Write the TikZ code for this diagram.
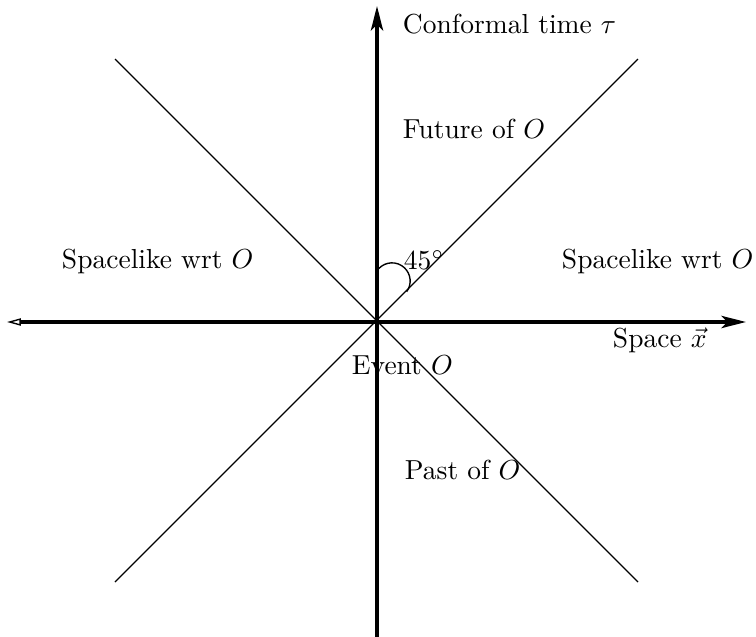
\documentclass[tikz,border=0pt]{standalone}
\usetikzlibrary{arrows.meta}
\begin{document}
\begin{tikzpicture}[x=0.3636pt,y=-0.3636pt,
  axis/.style={line width=1.1pt},
  cone/.style={line width=0.5pt},
  lbl/.style={anchor=base west,inner sep=0pt,outer sep=0pt}]
\useasboundingbox (0,0) rectangle (756,637);
\coordinate (O) at (377,321);
\coordinate (tb) at (377,637);
\coordinate (tt) at (377,6);
\coordinate (xl) at (7,322);
\coordinate (xr) at (746,322);
\coordinate (d1a) at (115,59);
\coordinate (d1b) at (638,582);
\coordinate (d2a) at (638,59);
\coordinate (d2b) at (115,582);
\coordinate (ac) at (392,281);
\draw[cone] (d1a) -- (d1b);
\draw[cone] (d2a) -- (d2b);
\draw[axis,-{Stealth[length=9pt,width=4.5pt,inset=2.2pt]}] (tb) -- (tt);
\draw[axis,{Triangle[open,length=5pt,width=2.6pt,line width=0.5pt]}-{Stealth[length=9pt,width=4.5pt,inset=2.2pt]}] (xl) -- (xr);
\draw[cone] ([shift={(137:6.6pt)}]ac) arc[start angle=137,end angle=-36,radius=6.6pt];
\node[lbl] (t1) at (403,33) {Conformal time $\tau$};
\node[lbl] (t2) at (403,138) {Future of $O$};
\node[lbl] (t3) at (404,269) {$45^\circ$};
\node[lbl] (t4) at (62,268) {Spacelike wrt $O$};
\node[lbl] (t5) at (562,268) {Spacelike wrt $O$};
\node[lbl] (t6) at (613,347) {Space $\vec{x}$};
\node[lbl] (t7) at (352,374) {Event $O$};
\node[lbl] (t8) at (405,479) {Past of $O$};
\end{tikzpicture}
\end{document}
